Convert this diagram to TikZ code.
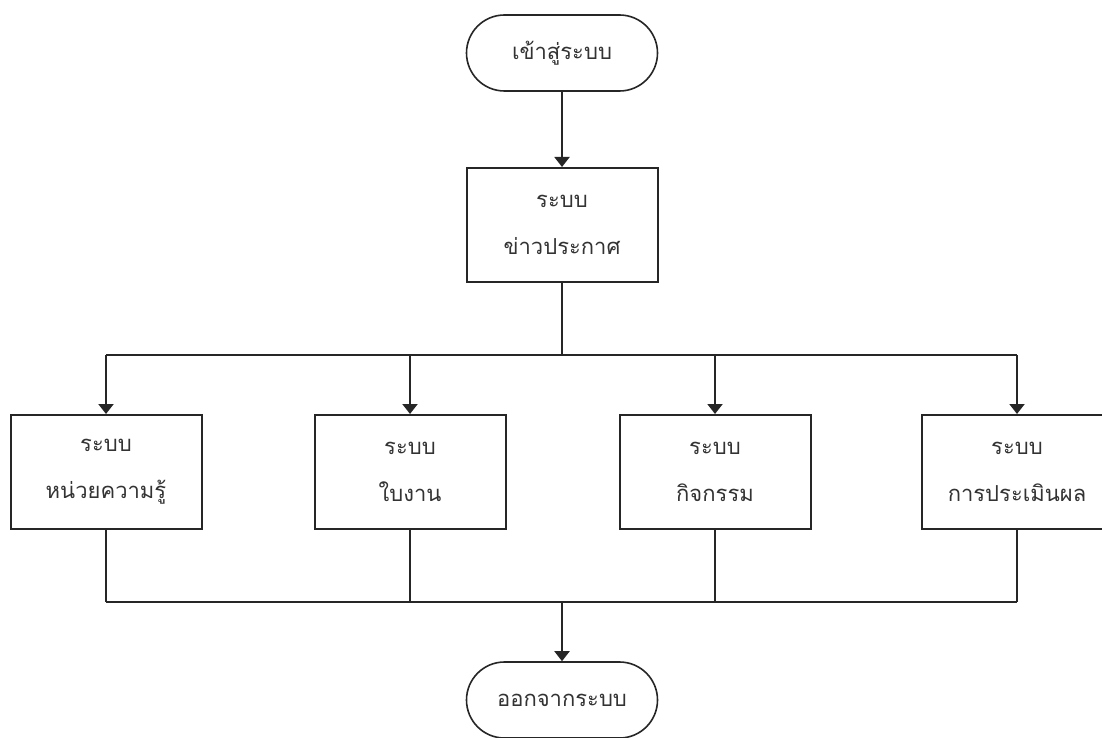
\documentclass[tikz,border=0pt]{standalone}
\usepackage{fontspec}
\newfontfamily\thaifont[Script=Thai]{Loma}
\usetikzlibrary{shapes.misc,arrows.meta}
\begin{document}
\begin{tikzpicture}[x=1pt,y=-1pt,
  line width=2pt,
  conn/.style={draw=black!85},
  arr/.style={conn,-{Triangle[width=15pt,length=10pt]}},
  term/.style={rounded rectangle,draw=black!85,line width=1.6pt,minimum width=191pt,minimum height=76pt,
    font=\thaifont\fontsize{22}{26}\selectfont,text=black!80,inner sep=0pt},
  sysbox/.style={rectangle,draw=black!85,line width=2pt,minimum width=191pt,minimum height=114pt,
    font=\thaifont\fontsize{22}{47}\selectfont,text=black!80,align=center,inner sep=0pt}]
\useasboundingbox (0,0) rectangle (1102,738);
\fill[white] (0,0) rectangle (1102,738);

% start / end terminators
\node[term] (start) at (562,53) {เข้าสู่ระบบ};
\node[term] (finish) at (562,700) {ออกจากระบบ};

% announcement system
\node[sysbox] (news) at (562,225) {ระบบ\\ข่าวประกาศ};

% subsystems
\node[sysbox] (s1) at (106,472) {ระบบ\\หน่วยความรู้};
\node[sysbox] (s2) at (410,472) {ระบบ\\ใบงาน};
\node[sysbox] (s3) at (715,472) {ระบบ\\กิจกรรม};
\node[sysbox] (s4) at (1017,472) {ระบบ\\การประเมินผล};

% junctions
\coordinate (split) at (562,355);
\coordinate (merge) at (562,602);

\draw[arr] (start) -- (news);
\draw[conn] (news.south) -- (split);
\draw[conn] (s1.north |- split) -- (s4.north |- split);
\foreach \s in {s1,s2,s3,s4}{
  \draw[arr] (\s.north |- split) -- (\s.north);
  \draw[conn] (\s.south) -- (\s.south |- merge);
}
\draw[conn] (s1.south |- merge) -- (s4.south |- merge);
\draw[arr] (merge) -- (finish.north);
\end{tikzpicture}
\end{document}
